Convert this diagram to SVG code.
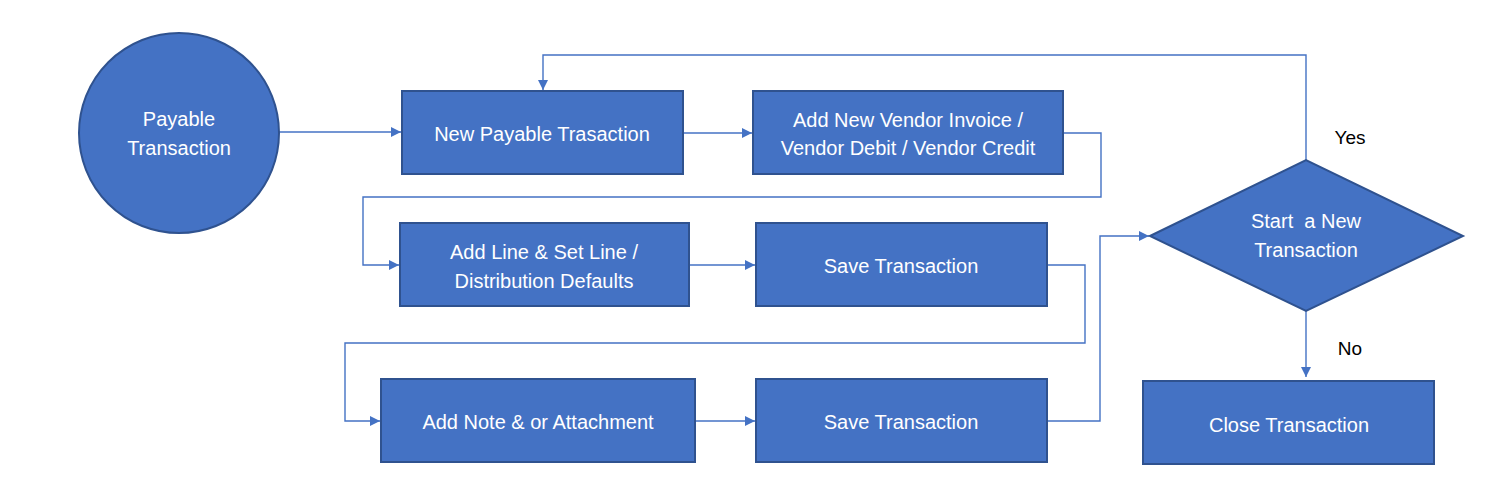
<svg xmlns="http://www.w3.org/2000/svg" width="1501" height="482" viewBox="0 0 1501 482">
<style>
.n{fill:#4472C4;stroke:#2F528F;stroke-width:2}
.t{fill:#fff;font-family:"Liberation Sans",Arial,sans-serif;font-size:20px;text-anchor:middle;dominant-baseline:central;white-space:pre}
.l{fill:#000;font-family:"Liberation Sans",Arial,sans-serif;font-size:19px;text-anchor:middle;dominant-baseline:central}
.c{fill:none;stroke:#4472C4;stroke-width:1.4}
</style>
<defs>
<marker id="a" viewBox="0 0 10 10" refX="10" refY="5" markerWidth="10" markerHeight="10" markerUnits="userSpaceOnUse" orient="auto">
<path d="M0,0 L10,5 L0,10 Z" fill="#4472C4"/>
</marker>
</defs>
<rect width="1501" height="482" fill="#fff"/>
<g id="connectors">
<path class="c" d="M279,132 L401,132" marker-end="url(#a)"/>
<path class="c" d="M683,133 L752,133" marker-end="url(#a)"/>
<path class="c" d="M1063,133 L1101,133 L1101,197 L363,197 L363,265 L399,265" marker-end="url(#a)"/>
<path class="c" d="M689,265 L755,265" marker-end="url(#a)"/>
<path class="c" d="M1047,265 L1085,265 L1085,343 L345,343 L345,421 L380,421" marker-end="url(#a)"/>
<path class="c" d="M695,421 L755,421" marker-end="url(#a)"/>
<path class="c" d="M1047,421 L1100,421 L1100,236 L1149,236" marker-end="url(#a)"/>
<path class="c" d="M1306,160 L1306,55 L543,55 L543,90" marker-end="url(#a)"/>
<path class="c" d="M1306,311 L1306,377" marker-end="url(#a)"/>
</g>
<g id="start">
<circle class="n" cx="179" cy="133" r="100"/>
<text class="t" x="179" y="119">Payable</text>
<text class="t" x="179" y="148">Transaction</text>
</g>
<g id="new-payable">
<rect class="n" x="402" y="91" width="281" height="83"/>
<text class="t" x="542" y="134">New Payable Trasaction</text>
</g>
<g id="add-invoice">
<rect class="n" x="753" y="91" width="310" height="83"/>
<text class="t" x="908" y="120">Add New Vendor Invoice /</text>
<text class="t" x="908" y="148">Vendor Debit / Vendor Credit</text>
</g>
<g id="add-line">
<rect class="n" x="400" y="223" width="289" height="83"/>
<text class="t" x="544" y="252">Add Line &amp; Set Line /</text>
<text class="t" x="544" y="281">Distribution Defaults</text>
</g>
<g id="save1">
<rect class="n" x="756" y="223" width="291" height="83"/>
<text class="t" x="901" y="266">Save Transaction</text>
</g>
<g id="add-note">
<rect class="n" x="381" y="379" width="314" height="83"/>
<text class="t" x="538" y="422">Add Note &amp; or Attachment</text>
</g>
<g id="save2">
<rect class="n" x="756" y="379" width="291" height="83"/>
<text class="t" x="901" y="422">Save Transaction</text>
</g>
<g id="decision">
<polygon class="n" points="1150,236 1306,160 1463,236 1306,311"/>
<text class="t" x="1306" y="221" xml:space="preserve">Start  a New</text>
<text class="t" x="1306" y="250">Transaction</text>
</g>
<g id="close">
<rect class="n" x="1143" y="381" width="291" height="83"/>
<text class="t" x="1289" y="425">Close Transaction</text>
</g>
<g id="labels">
<text class="l" x="1350" y="137">Yes</text>
<text class="l" x="1350" y="348">No</text>
</g>
</svg>
